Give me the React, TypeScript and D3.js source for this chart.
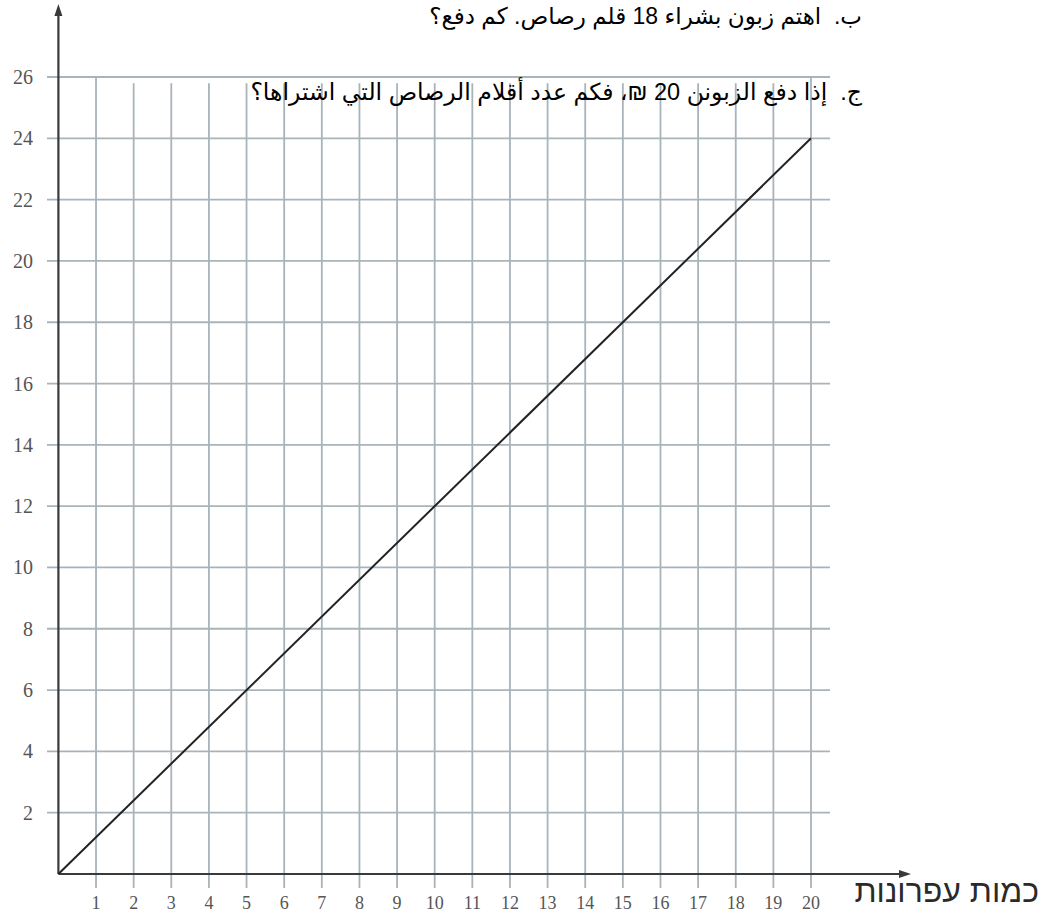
import React from "react";
import * as d3 from "d3";

const xTicks = d3.range(1, 21);
const yTicks = [2, 4, 6, 8, 10, 12, 14, 16, 18, 20, 22, 24, 26];
const lineData: [number, number][] = [
  [0, 0],
  [20, 24],
];
const questionB = "ب.  اهتم زبون بشراء 18 قلم رصاص. كم دفع؟";
const questionC = "ج.  إذا دفع الزبونن 20 ₪، فكم عدد أقلام الرصاص التي اشتراها؟";
const xLabel = "כמות עפרונות";

const W = 1057;
const H = 915;

export default function App() {
  const x = d3.scaleLinear().domain([0, 20]).range([58.4, 811]);
  const y = d3.scaleLinear().domain([0, 26]).range([874, 77]);
  const line = d3
    .line<[number, number]>()
    .x((d) => x(d[0]))
    .y((d) => y(d[1]));
  const gridColor = "#a8b3ba";
  const axisColor = "#3a3a3a";
  const serif = "'Liberation Serif', 'Times New Roman', serif";
  const sans = "'Liberation Sans', Arial, 'DejaVu Sans', sans-serif";

  return (
    <svg
      width={W}
      height={H}
      style={{ position: "absolute", left: 0, top: 0, background: "#fff" }}
    >
      {/* horizontal grid */}
      {yTicks.map((t) => (
        <line
          key={"h" + t}
          x1={47}
          x2={830}
          y1={y(t)}
          y2={y(t)}
          stroke={gridColor}
          strokeWidth={1.8}
        />
      ))}
      {/* vertical grid with tick extensions */}
      {xTicks.map((t) => (
        <line
          key={"v" + t}
          x1={x(t)}
          x2={x(t)}
          y1={t === 1 || t === 20 ? y(26) : y(25.8)}
          y2={888}
          stroke={gridColor}
          strokeWidth={1.8}
        />
      ))}
      {/* y tick labels */}
      {yTicks.map((t) => (
        <text
          key={"yl" + t}
          x={33}
          y={y(t)}
          textAnchor="end"
          dominantBaseline="central"
          fontFamily={serif}
          fontSize={20}
          fill="#555"
        >
          {t}
        </text>
      ))}
      {/* x tick labels */}
      {xTicks.map((t) => (
        <text
          key={"xl" + t}
          x={x(t)}
          y={903}
          textAnchor="middle"
          dominantBaseline="central"
          fontFamily={serif}
          fontSize={18}
          fill="#555"
        >
          {t}
        </text>
      ))}
      {/* axes */}
      <line x1={x(0)} x2={x(0)} y1={y(0)} y2={14} stroke={axisColor} strokeWidth={2.2} />
      <path
        d={`M${x(0)},4 L${x(0) - 4},16 L${x(0) + 4},16 Z`}
        fill={axisColor}
      />
      <line x1={x(0)} x2={900} y1={y(0)} y2={y(0)} stroke={axisColor} strokeWidth={2.2} />
      <path
        d={`M911,${y(0)} L899,${y(0) - 4} L899,${y(0) + 4} Z`}
        fill={axisColor}
      />
      {/* data line */}
      <path d={line(lineData) || ""} fill="none" stroke="#222" strokeWidth={2} />
      {/* questions */}
      <text
        x={862}
        y={24}
        direction="rtl"
        textAnchor="start"
        fontFamily={sans}
        fontSize={23}
        fill="#000"
        style={{ whiteSpace: "pre" }}
      >
        {questionB}
      </text>
      <text
        x={862}
        y={100}
        direction="rtl"
        textAnchor="start"
        fontFamily={sans}
        fontSize={23.5}
        fill="#000"
        style={{ whiteSpace: "pre" }}
      >
        {questionC}
      </text>
      {/* x axis label */}
      <text
        x={1039}
        y={902}
        direction="rtl"
        textAnchor="start"
        fontFamily={sans}
        fontSize={32}
        fill="#2a2a2a"
      >
        {xLabel}
      </text>
    </svg>
  );
}
